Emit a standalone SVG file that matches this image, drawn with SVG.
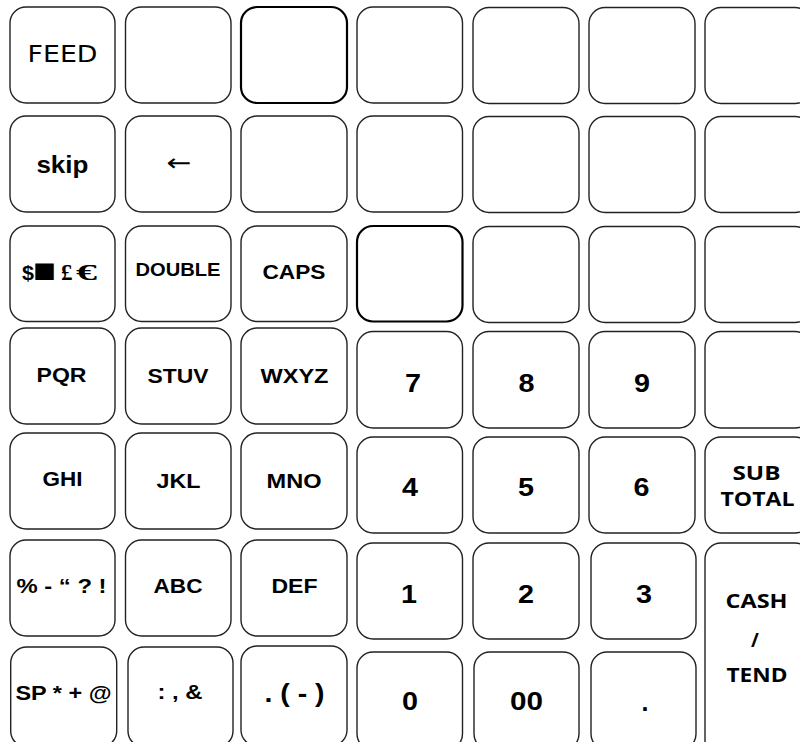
<svg xmlns="http://www.w3.org/2000/svg" width="800" height="742" viewBox="0 0 800 742">
<style>
.k{fill:#fff;stroke:#222;stroke-width:1.4}
.kb{fill:#fff;stroke:#000;stroke-width:2.2}
.t{font-family:"Liberation Sans",Arial,sans-serif;font-weight:bold;text-anchor:middle;fill:#000}
.o{font-family:"Open Sans","Liberation Sans",sans-serif;font-weight:bold;text-anchor:middle;fill:#000}
.r{font-family:"DejaVu Sans","Liberation Sans",sans-serif;font-weight:normal;text-anchor:middle;fill:#000}
</style>
<rect x="0" y="0" width="800" height="742" fill="#fff"/>
<!-- Row 1 -->
<g id="key-feed"><rect class="k" x="10" y="7" width="105" height="96" rx="16"/><text class="r" x="62.5" y="62" font-size="23" textLength="70" lengthAdjust="spacingAndGlyphs">FEED</text></g>
<g id="key-r1c2"><rect class="k" x="125.5" y="7" width="105.5" height="96" rx="16"/></g>
<g id="key-r1c3"><rect class="kb" x="241" y="7" width="106" height="96" rx="16"/></g>
<g id="key-r1c4"><rect class="k" x="357" y="7" width="105.5" height="96" rx="16"/></g>
<g id="key-r1c5"><rect class="k" x="473" y="7.5" width="106" height="96" rx="16"/></g>
<g id="key-r1c6"><rect class="k" x="589" y="7.5" width="106" height="96" rx="16"/></g>
<g id="key-r1c7"><rect class="k" x="705" y="7.5" width="106" height="96" rx="16"/></g>
<!-- Row 2 -->
<g id="key-skip"><rect class="k" x="10" y="116" width="105" height="96" rx="16"/><text class="t" x="62.4" y="173" font-size="24" textLength="52" lengthAdjust="spacingAndGlyphs">skip</text></g>
<g id="key-back"><rect class="k" x="125.5" y="116" width="105.5" height="96" rx="16"/><text class="r" x="179" y="171" font-size="24" textLength="25" lengthAdjust="spacingAndGlyphs">←</text></g>
<g id="key-r2c3"><rect class="k" x="241" y="116" width="106" height="96" rx="16"/></g>
<g id="key-r2c4"><rect class="k" x="357" y="116" width="105.5" height="96" rx="16"/></g>
<g id="key-r2c5"><rect class="k" x="473" y="116.5" width="106" height="96" rx="16"/></g>
<g id="key-r2c6"><rect class="k" x="589" y="116.5" width="106" height="96" rx="16"/></g>
<g id="key-r2c7"><rect class="k" x="705" y="116.5" width="106" height="96" rx="16"/></g>
<!-- Row 3 -->
<g id="key-currency"><rect class="k" x="10" y="226" width="105" height="95.5" rx="16"/><text class="t" x="22" y="280" font-size="21" style="text-anchor:start"><tspan textLength="12" lengthAdjust="spacingAndGlyphs">$</tspan><tspan x="33" dy="2" font-size="34" textLength="23" lengthAdjust="spacingAndGlyphs">■</tspan><tspan x="61" dy="-2" font-family="Liberation Serif,serif" font-size="23">£</tspan><tspan x="76" font-family="Liberation Serif,serif" font-size="23" textLength="21" lengthAdjust="spacingAndGlyphs">€</tspan></text></g>
<g id="key-double"><rect class="k" x="125.5" y="226" width="105.5" height="95.5" rx="16"/><text class="t" x="178" y="276" font-size="18" textLength="85" lengthAdjust="spacingAndGlyphs">DOUBLE</text></g>
<g id="key-caps"><rect class="k" x="241" y="226" width="106" height="95.5" rx="16"/><text class="t" x="294" y="279" font-size="20" textLength="63" lengthAdjust="spacingAndGlyphs">CAPS</text></g>
<g id="key-r3c4"><rect class="kb" x="357" y="226" width="105.5" height="95.5" rx="16"/></g>
<g id="key-r3c5"><rect class="k" x="473" y="226.5" width="106" height="96" rx="16"/></g>
<g id="key-r3c6"><rect class="k" x="589" y="226.5" width="106" height="96" rx="16"/></g>
<g id="key-r3c7"><rect class="k" x="705" y="226.5" width="106" height="96" rx="16"/></g>
<!-- Row 4 -->
<g id="key-pqr"><rect class="k" x="10" y="328" width="105" height="96" rx="16"/><text class="t" x="61.5" y="382" font-size="21" textLength="50" lengthAdjust="spacingAndGlyphs">PQR</text></g>
<g id="key-stuv"><rect class="k" x="125.5" y="328" width="105.5" height="96" rx="16"/><text class="t" x="178" y="383" font-size="21" textLength="61" lengthAdjust="spacingAndGlyphs">STUV</text></g>
<g id="key-wxyz"><rect class="k" x="241" y="328" width="106" height="96" rx="16"/><text class="t" x="294.5" y="383" font-size="21" textLength="68" lengthAdjust="spacingAndGlyphs">WXYZ</text></g>
<g id="key-7"><rect class="k" x="357" y="331.5" width="105.5" height="96.5" rx="16"/><text class="t" x="413" y="392" font-size="26" textLength="16" lengthAdjust="spacingAndGlyphs">7</text></g>
<g id="key-8"><rect class="k" x="473" y="331.5" width="106" height="96.5" rx="16"/><text class="t" x="526.5" y="392" font-size="26" textLength="16" lengthAdjust="spacingAndGlyphs">8</text></g>
<g id="key-9"><rect class="k" x="589" y="331.5" width="106" height="96.5" rx="16"/><text class="t" x="642" y="392" font-size="26" textLength="16" lengthAdjust="spacingAndGlyphs">9</text></g>
<g id="key-r4c7"><rect class="k" x="705" y="331.5" width="106" height="96.5" rx="16"/></g>
<!-- Row 5 -->
<g id="key-ghi"><rect class="k" x="10" y="433" width="105" height="96" rx="16"/><text class="t" x="62.5" y="486" font-size="21" textLength="40" lengthAdjust="spacingAndGlyphs">GHI</text></g>
<g id="key-jkl"><rect class="k" x="125.5" y="433" width="105.5" height="96" rx="16"/><text class="t" x="178.5" y="488" font-size="21" textLength="44" lengthAdjust="spacingAndGlyphs">JKL</text></g>
<g id="key-mno"><rect class="k" x="241" y="433" width="106" height="96" rx="16"/><text class="t" x="294" y="488" font-size="21" textLength="55" lengthAdjust="spacingAndGlyphs">MNO</text></g>
<g id="key-4"><rect class="k" x="357" y="437" width="105.5" height="96" rx="16"/><text class="t" x="410" y="496" font-size="26" textLength="16" lengthAdjust="spacingAndGlyphs">4</text></g>
<g id="key-5"><rect class="k" x="473" y="437" width="106" height="96" rx="16"/><text class="t" x="526" y="496" font-size="26" textLength="16" lengthAdjust="spacingAndGlyphs">5</text></g>
<g id="key-6"><rect class="k" x="589" y="437" width="106" height="96" rx="16"/><text class="t" x="641.5" y="496" font-size="26" textLength="16" lengthAdjust="spacingAndGlyphs">6</text></g>
<g id="key-subtotal"><rect class="k" x="705" y="437" width="106" height="96" rx="16"/><text class="o" x="756.5" y="480" font-size="19" textLength="48" lengthAdjust="spacingAndGlyphs">SUB</text><text class="o" x="757.5" y="506" font-size="19" textLength="74" lengthAdjust="spacingAndGlyphs">TOTAL</text></g>
<!-- Row 6 -->
<g id="key-punct"><rect class="k" x="10" y="540" width="105" height="96" rx="16"/><text class="t" x="61.5" y="593" font-size="21" textLength="90" lengthAdjust="spacingAndGlyphs">% - “ ? !</text></g>
<g id="key-abc"><rect class="k" x="125.5" y="540" width="105.5" height="96" rx="16"/><text class="t" x="178" y="593" font-size="21" textLength="49" lengthAdjust="spacingAndGlyphs">ABC</text></g>
<g id="key-def"><rect class="k" x="241" y="540" width="106" height="96" rx="16"/><text class="t" x="294.5" y="593" font-size="21" textLength="46" lengthAdjust="spacingAndGlyphs">DEF</text></g>
<g id="key-1"><rect class="k" x="357" y="543" width="105.5" height="96" rx="16"/><text class="t" x="409" y="603" font-size="26" textLength="16" lengthAdjust="spacingAndGlyphs">1</text></g>
<g id="key-2"><rect class="k" x="473" y="543" width="106" height="96" rx="16"/><text class="t" x="526" y="603" font-size="26" textLength="16" lengthAdjust="spacingAndGlyphs">2</text></g>
<g id="key-3"><rect class="k" x="591" y="543" width="105" height="96" rx="16"/><text class="t" x="644" y="603" font-size="26" textLength="16" lengthAdjust="spacingAndGlyphs">3</text></g>
<g id="key-cashtend"><rect class="k" x="705" y="543" width="106" height="220" rx="16"/><text class="o" x="756.5" y="608" font-size="19" textLength="62" lengthAdjust="spacingAndGlyphs">CASH</text><text class="o" x="755" y="647" font-size="19">/</text><text class="o" x="757" y="682" font-size="19" textLength="61" lengthAdjust="spacingAndGlyphs">TEND</text></g>
<!-- Row 7 -->
<g id="key-sp"><rect class="k" x="10.7" y="647" width="106" height="100" rx="16"/><text class="t" x="63.5" y="700" font-size="21" textLength="96" lengthAdjust="spacingAndGlyphs">SP * + @</text></g>
<g id="key-colon"><rect class="k" x="128" y="647" width="105" height="100" rx="16"/><text class="t" x="180" y="699" font-size="21" textLength="45" lengthAdjust="spacingAndGlyphs">: , &amp;</text></g>
<g id="key-paren"><rect class="k" x="241" y="646" width="106" height="100" rx="16"/><text class="t" x="294.5" y="702" font-size="26" textLength="60" lengthAdjust="spacingAndGlyphs">. ( - )</text></g>
<g id="key-0"><rect class="k" x="357" y="652" width="105.5" height="98" rx="16"/><text class="t" x="410" y="710" font-size="25" textLength="16" lengthAdjust="spacingAndGlyphs">0</text></g>
<g id="key-00"><rect class="k" x="474" y="652" width="105" height="98" rx="16"/><text class="t" x="526.5" y="710" font-size="25" textLength="33" lengthAdjust="spacingAndGlyphs">00</text></g>
<g id="key-dot"><rect class="k" x="591" y="652" width="105" height="98" rx="16"/><text class="t" x="645" y="711" font-size="25">.</text></g>
</svg>
